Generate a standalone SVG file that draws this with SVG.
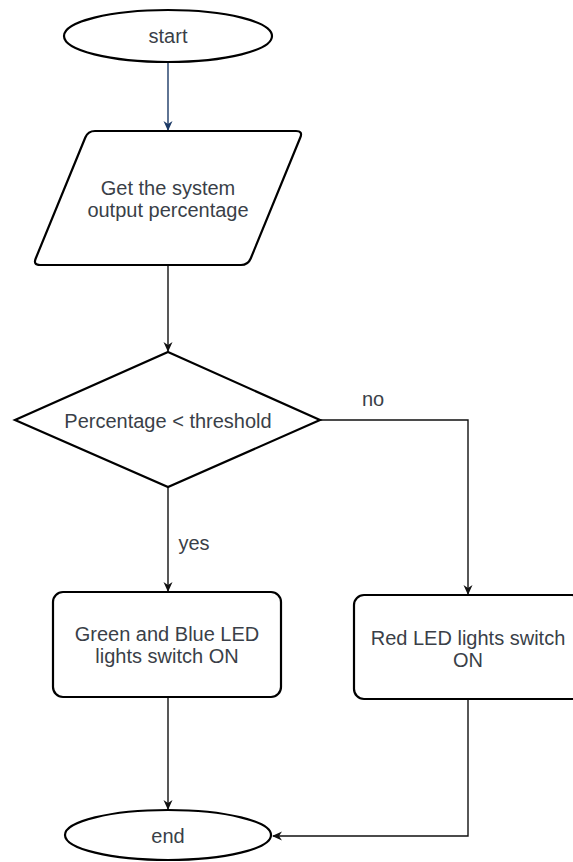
<svg xmlns="http://www.w3.org/2000/svg" width="573" height="862" viewBox="0 0 573 862">
  <style>
    .shape { fill: #ffffff; stroke: #000000; stroke-width: 2.2; }
    .conn { fill: none; stroke: #111111; stroke-width: 1.4; }
    .label { font-family: "Liberation Sans", Arial, sans-serif; font-size: 20px; fill: #3a3f48; text-anchor: middle; dominant-baseline: central; }
  </style>
  <defs>
    <marker id="arrow" viewBox="0 0 10 10" refX="9" refY="5" markerWidth="10" markerHeight="10" markerUnits="userSpaceOnUse" orient="auto">
      <path d="M0,0.5 L10,5 L0,9.5 L3,5 Z" fill="#111111"/>
    </marker>
    <marker id="arrowBlue" viewBox="0 0 10 10" refX="9" refY="5" markerWidth="10" markerHeight="10" markerUnits="userSpaceOnUse" orient="auto">
      <path d="M0,0.5 L10,5 L0,9.5 L3,5 Z" fill="#1c3a66"/>
    </marker>
  </defs>
  <rect x="0" y="0" width="573" height="862" fill="#ffffff"/>

  <g id="connectors">
    <path class="conn" d="M168,62 L168,130" style="stroke:#1c3a66" marker-end="url(#arrowBlue)"/>
    <path class="conn" d="M168,265 L168,351" marker-end="url(#arrow)"/>
    <path class="conn" d="M168,487 L168,591" marker-end="url(#arrow)"/>
    <path class="conn" d="M320,420 L468,420 L468,594" marker-end="url(#arrow)"/>
    <path class="conn" d="M168,697 L168,809" marker-end="url(#arrow)"/>
    <path class="conn" d="M468,699 L468,836 L273,836" marker-end="url(#arrow)"/>
    <text class="label" x="194" y="543">yes</text>
    <text class="label" x="373" y="399">no</text>
  </g>

  <g id="start">
    <ellipse class="shape" cx="168" cy="36" rx="104" ry="26"/>
    <text class="label" x="168" y="36">start</text>
  </g>

  <g id="get-output">
    <path class="shape" d="M95,131 L296,131 Q303,131 300.3,137.5 L250.7,258.5 Q248,265 241,265 L40,265 Q33,265 35.7,258.5 L85.3,137.5 Q88,131 95,131 Z"/>
    <text class="label" x="168" y="188">Get the system</text>
    <text class="label" x="168" y="210">output percentage</text>
  </g>

  <g id="decision">
    <path class="shape" d="M168,352 L320,420 L168,487 L15,420 Z" stroke-linejoin="miter"/>
    <text class="label" x="168" y="421">Percentage &lt; threshold</text>
  </g>

  <g id="green-blue">
    <rect class="shape" x="53" y="592" width="228" height="105" rx="10" ry="10"/>
    <text class="label" x="167" y="634">Green and Blue LED</text>
    <text class="label" x="167" y="656">lights switch ON</text>
  </g>

  <g id="red">
    <rect class="shape" x="354" y="595" width="228" height="104" rx="10" ry="10"/>
    <text class="label" x="468" y="638">Red LED lights switch</text>
    <text class="label" x="468" y="660">ON</text>
  </g>

  <g id="end">
    <ellipse class="shape" cx="168" cy="835" rx="103" ry="25"/>
    <text class="label" x="168" y="836">end</text>
  </g>
</svg>
